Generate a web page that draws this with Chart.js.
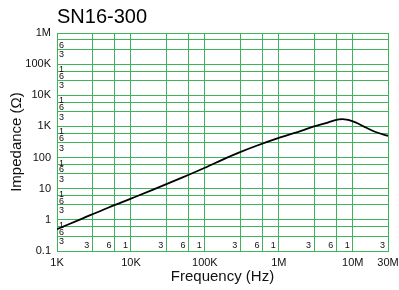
<!DOCTYPE html>
<html>
<head>
<meta charset="utf-8">
<script src="https://cdn.jsdelivr.net/npm/chart.js@4"></script>
<style>
  html, body { margin: 0; padding: 0; background: #fff; }
  #wrap { width: 399px; height: 290px; }
</style>
</head>
<body>
<div id="wrap"><canvas id="graph"></canvas></div>
<script>
/* DATA */
const chartTitle = "SN16-300";
const freqHz = [1e3, 2e3, 5e3, 1e4, 2e4, 5e4, 1e5, 2e5, 3e5, 5e5, 1e6, 2e6, 3e6, 4.6e6, 5.5e6, 6.5e6, 7.3e6, 8.3e6, 9.6e6, 1.2e7, 1.44e7, 2e7, 3e7];
const impedance = [0.5, 1.0, 2.5, 4.8, 9.3, 23, 47, 100, 150, 240, 430, 720, 1000, 1330, 1530, 1680, 1720, 1650, 1510, 1220, 970, 675, 500];

const xGridValues = [1e3, 3e3, 6e3, 1e4, 3e4, 6e4, 1e5, 3e5, 6e5, 1e6, 3e6, 6e6, 1e7, 3e7];
const xTickLabels = ["1K", "", "", "10K", "", "", "100K", "", "", "1M", "", "", "10M", "30M"];
const xInnerLabels = ["", "3", "6", "1", "3", "6", "1", "3", "6", "1", "3", "6", "1", "3"];

const yGridValues = [0.1, 0.3, 0.6, 1, 3, 6, 10, 30, 60, 100, 300, 600, 1e3, 3e3, 6e3, 1e4, 3e4, 6e4, 1e5, 3e5, 6e5, 1e6];
const yTickLabels = ["0.1", "", "", "1", "", "", "10", "", "", "100", "", "", "1K", "", "", "10K", "", "", "100K", "", "", "1M"];
const yInnerLabels = ["", "3", "6", "1", "3", "6", "1", "3", "6", "1", "3", "6", "1", "3", "6", "1", "3", "6", "1", "3", "6", ""];

/* STYLE */
const gridColor = "rgb(60, 180, 90)";
const textColor = "#111";
Chart.defaults.font.family = "'Liberation Sans', Arial, Helvetica, sans-serif";
Chart.defaults.color = textColor;

/* PLUGIN: small 1/3/6 labels inside the plot and the title */
const innerLabels = {
  id: "innerLabels",
  beforeDatasetsDraw(chart) {
    const { ctx, chartArea, scales: { x, y } } = chart;
    ctx.save();
    ctx.fillStyle = textColor;
    ctx.font = "9px 'Liberation Sans', Arial, sans-serif";
    ctx.textAlign = "left";
    ctx.textBaseline = "top";
    yGridValues.forEach((v, i) => {
      if (yInnerLabels[i]) ctx.fillText(yInnerLabels[i], chartArea.left + 2, y.getPixelForValue(v) + 1);
    });
    ctx.textAlign = "right";
    ctx.textBaseline = "alphabetic";
    xGridValues.forEach((v, i) => {
      if (xInnerLabels[i]) ctx.fillText(xInnerLabels[i], x.getPixelForValue(v) - 3, chartArea.bottom - 3);
    });
    ctx.fillStyle = "#000";
    ctx.font = "20px 'Liberation Sans', Arial, sans-serif";
    ctx.textAlign = "left";
    ctx.textBaseline = "middle";
    ctx.fillText(chartTitle, chartArea.left, 17);
    ctx.restore();
  }
};

const gridOpts = {
  color: gridColor,
  drawTicks: false,
  lineWidth: 1
};

const config = {
  type: "line",
  data: {
    datasets: [{
      data: freqHz.map((f, i) => ({ x: f, y: impedance[i] })),
      borderColor: "#000",
      borderWidth: 1.8,
      pointRadius: 0,
      fill: false,
      cubicInterpolationMode: "monotone"
    }]
  },
  options: {
    responsive: true,
    maintainAspectRatio: false,
    animation: false,
    devicePixelRatio: 1,
    layout: { padding: { top: 33, right: 11, left: 0, bottom: 0 } },
    plugins: { legend: { display: false }, tooltip: { enabled: false } },
    scales: {
      x: {
        type: "logarithmic",
        min: 1e3,
        max: 3e7,
        afterBuildTicks: (s) => { s.ticks = xGridValues.map((v) => ({ value: v })); },
        afterFit: (s) => { s.height = 39; s.paddingLeft = 0; s.paddingRight = 0; },
        ticks: {
          autoSkip: false,
          maxRotation: 0,
          padding: 5,
          font: { size: 11 },
          callback: (v, i) => xTickLabels[i]
        },
        grid: gridOpts,
        border: { color: gridColor },
        title: { display: true, text: "Frequency (Hz)", font: { size: 15 }, padding: { top: 0, bottom: 4 } }
      },
      y: {
        type: "logarithmic",
        min: 0.1,
        max: 1e6,
        afterBuildTicks: (s) => { s.ticks = yGridValues.map((v) => ({ value: v })); },
        afterFit: (s) => { s.width = 57; },
        ticks: {
          autoSkip: false,
          padding: 6,
          font: { size: 11 },
          callback: (v, i) => yTickLabels[i]
        },
        grid: gridOpts,
        border: { color: gridColor },
        title: { display: true, text: "Impedance (Ω)", font: { size: 15 }, padding: { top: 8, bottom: 0 } }
      }
    }
  },
  plugins: [innerLabels]
};

let chart = new Chart(document.getElementById("graph"), config);
</script>
</body>
</html>
